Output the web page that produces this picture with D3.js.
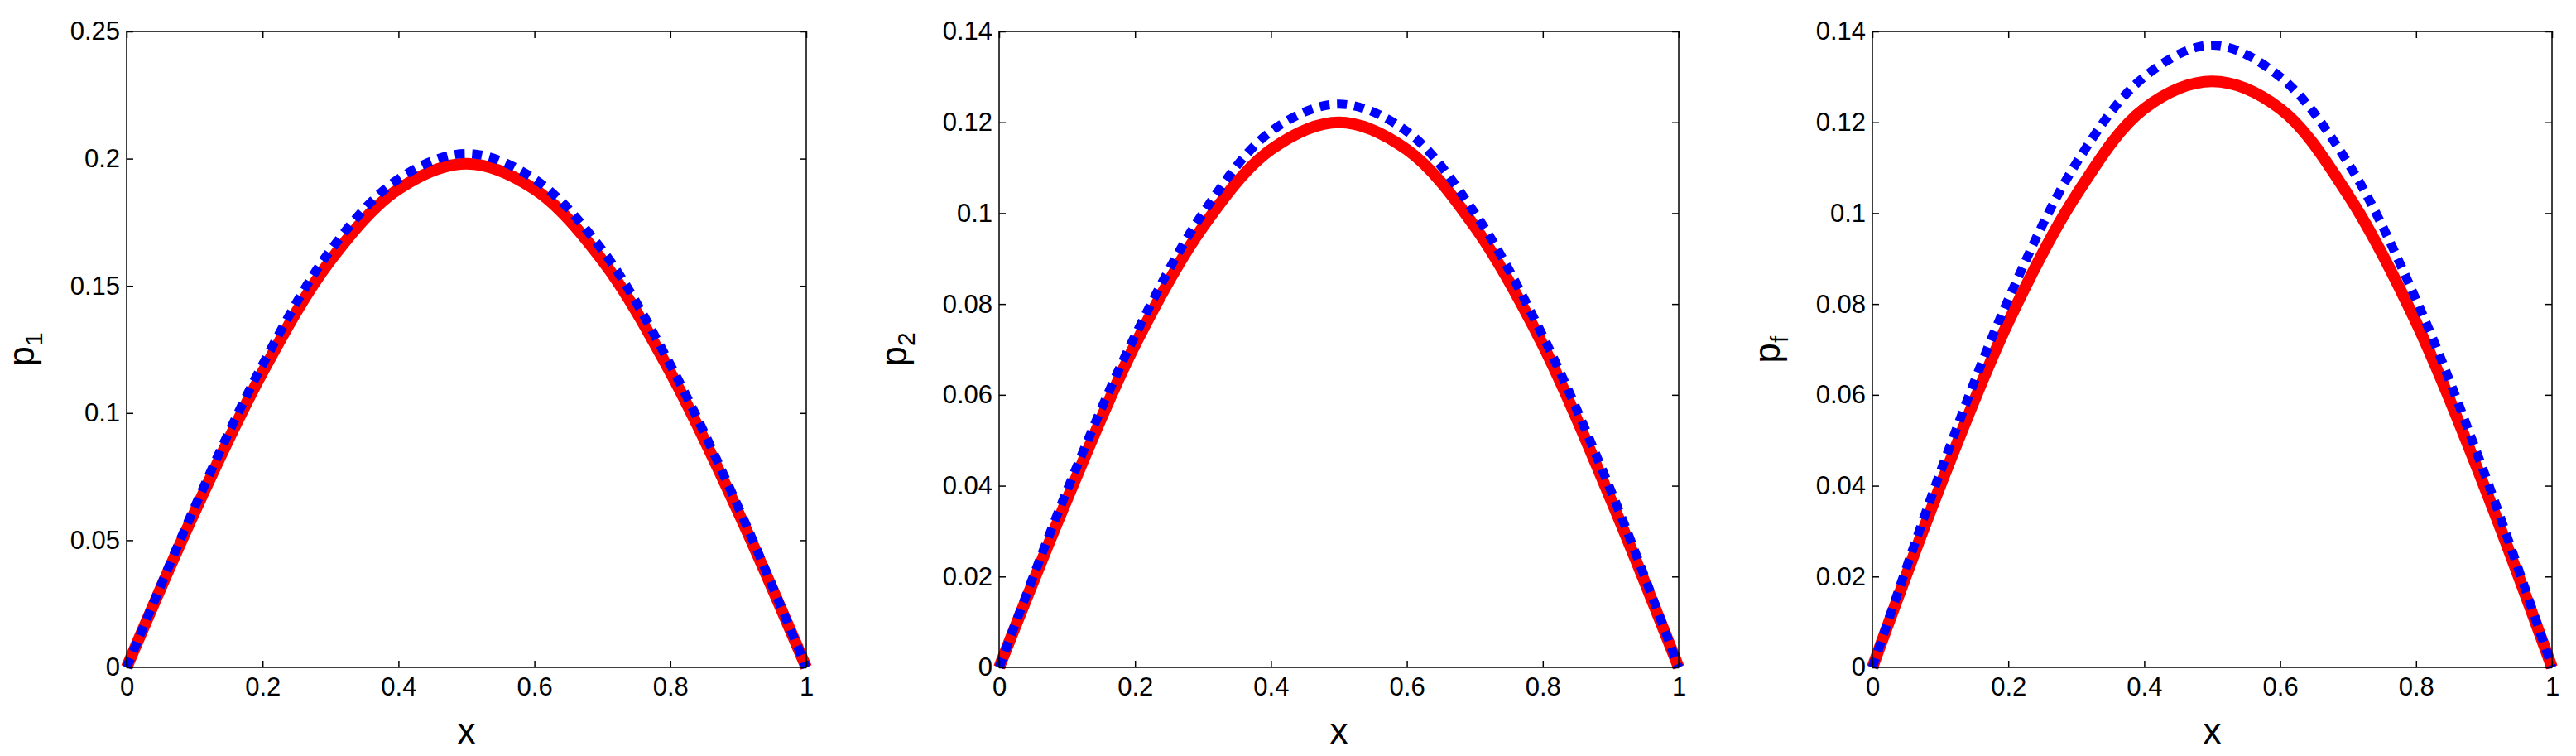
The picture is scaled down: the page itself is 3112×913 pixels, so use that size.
<!DOCTYPE html>
<html><head><meta charset="utf-8">
<script src="https://cdn.jsdelivr.net/npm/d3@7"></script>
<style>body{margin:0;background:#fff}svg{display:block}text{font-family:"Liberation Sans",Arial,sans-serif}</style>
</head><body>
<svg id="c" width="3112" height="913"></svg>
<script>
const xs=[0,0.1,0.2,0.3,0.4,0.5,0.6,0.7,0.8,0.9,1];
const p1Red=[0,0.061,0.116,0.160,0.188,0.198,0.188,0.160,0.116,0.061,0];
const p1Blue=[0,0.063,0.119,0.164,0.192,0.202,0.192,0.164,0.119,0.063,0];
const p2Red=[0,0.037,0.071,0.097,0.114,0.120,0.114,0.097,0.071,0.037,0];
const p2Blue=[0,0.039,0.073,0.100,0.118,0.124,0.118,0.100,0.073,0.039,0];
const pfRed=[0,0.040,0.076,0.104,0.123,0.129,0.123,0.104,0.076,0.040,0];
const pfBlue=[0,0.043,0.081,0.111,0.130,0.137,0.130,0.111,0.081,0.043,0];
const xTicks=[0,0.2,0.4,0.6,0.8,1];
const yTicks1=[0,0.05,0.1,0.15,0.2,0.25];
const yTicks2=[0,0.02,0.04,0.06,0.08,0.1,0.12,0.14];
const panels=[
 {left:153,ymax:0.25,ticks:yTicks1,red:p1Red,blue:p1Blue,sub:"1"},
 {left:1207,ymax:0.14,ticks:yTicks2,red:p2Red,blue:p2Blue,sub:"2"},
 {left:2262,ymax:0.14,ticks:yTicks2,red:pfRed,blue:pfBlue,sub:"f"}];
const W=821,plotTop=38,plotBot=806;
const svg=d3.select("#c");
panels.forEach(p=>{
 const x=d3.scaleLinear().domain([0,1]).range([p.left,p.left+W]);
 const y=d3.scaleLinear().domain([0,p.ymax]).range([plotBot,plotTop]);
 const g=svg.append("g");
 const line=d3.line().x((d,i)=>x(xs[i])).y(d=>y(d)).curve(d3.curveCatmullRom);
 g.append("path").attr("d",line(p.red)).attr("fill","none").attr("stroke","#ff0000").attr("stroke-width",14);
 g.append("path").attr("d",line(p.blue)).attr("fill","none").attr("stroke","#0000ff").attr("stroke-width",11).attr("stroke-dasharray","12,9");
 const fmt=d=>String(d);
 const ax=(a,tr,sz)=>g.append("g").attr("transform",tr).call(a.tickSize(sz).tickPadding(12).tickFormat(fmt));
 ax(d3.axisBottom(x).tickValues(xTicks),`translate(0,${plotBot})`,-8);
 const tx=ax(d3.axisTop(x).tickValues(xTicks),`translate(0,${plotTop})`,-8);tx.selectAll("text").remove();
 const ly=ax(d3.axisLeft(y).tickValues(p.ticks),`translate(${p.left},0)`,-8);
 const ry=ax(d3.axisRight(y).tickValues(p.ticks),`translate(${p.left+W},0)`,-8);ry.selectAll("text").remove();
 g.selectAll(".domain").remove();
 g.selectAll(".tick line").attr("stroke","#000").attr("stroke-width",1.5);
 g.selectAll(".tick text").attr("font-size",31).attr("fill","#000");
 ly.selectAll(".tick text").attr("dx",4);
 g.append("rect").attr("x",p.left).attr("y",plotTop).attr("width",W).attr("height",plotBot-plotTop).attr("fill","none").attr("stroke","#000").attr("stroke-width",1.5);
 g.append("text").attr("x",p.left+W/2).attr("y",898).attr("text-anchor","middle").attr("font-size",44).text("x");
 const t=g.append("text").attr("transform",`translate(${p.left-112},${(plotTop+plotBot)/2}) rotate(-90)`).attr("text-anchor","middle").attr("font-size",44);
 t.append("tspan").text("p");
 t.append("tspan").attr("font-size",30).attr("dy",10).text(p.sub);
});
</script>
</body></html>
